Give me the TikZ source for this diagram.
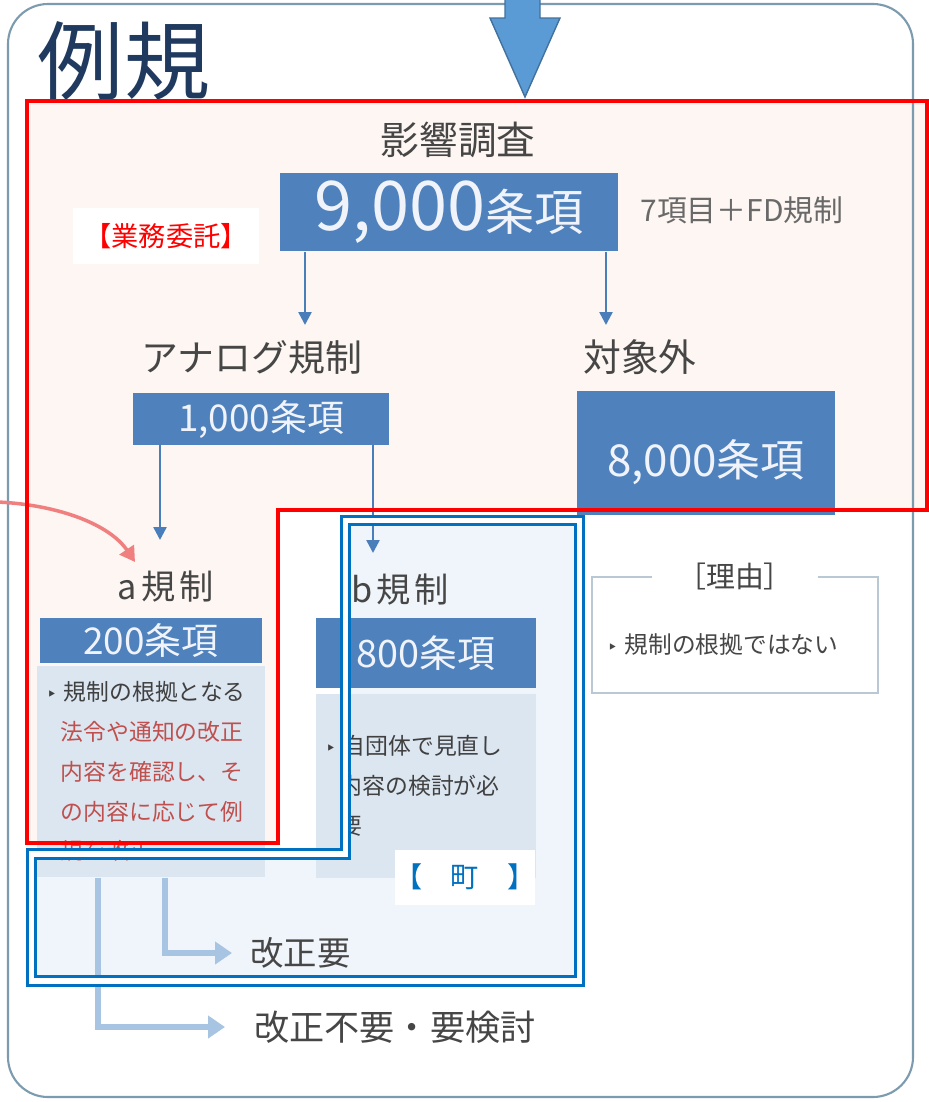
\documentclass[tikz,border=0pt]{standalone}
\usepackage{fontspec}
\setmainfont{Noto Sans CJK JP}
\newfontfamily\symfont{DejaVu Sans}
\usepackage{xcolor}
\usetikzlibrary{arrows.meta, positioning}

\definecolor{boxblue}{RGB}{79,129,189}
\definecolor{numtext}{RGB}{240,244,250}
\definecolor{bodyfill}{RGB}{220,230,241}
\definecolor{bodytext}{RGB}{64,64,64}
\definecolor{headgray}{RGB}{70,70,70}
\definecolor{softgray}{RGB}{105,105,105}
\definecolor{titlenavy}{RGB}{31,58,94}
\definecolor{arrowblue}{RGB}{74,126,187}
\definecolor{flowblue}{RGB}{167,196,226}
\definecolor{noteRed}{RGB}{192,80,77}
\definecolor{peach}{RGB}{253,246,242}
\definecolor{bluewash}{RGB}{240,245,251}
\definecolor{townblue}{RGB}{0,112,192}
\definecolor{framegray}{RGB}{125,155,175}
\definecolor{reasongray}{RGB}{185,200,212}
\definecolor{pinkline}{RGB}{240,128,128}
\definecolor{bigarrowfill}{RGB}{91,155,213}
\definecolor{bigarrowline}{RGB}{65,113,156}

\newcommand{\tribullet}{{\symfont\fontsize{10}{10}\selectfont ‣}}

\begin{document}
\begin{tikzpicture}[x=0.02cm, y=-0.02cm,
    numbox/.style={rectangle, fill=boxblue, text=numtext, inner sep=0pt},
    bodybox/.style={rectangle, fill=bodyfill, text=bodytext, inner xsep=0.2cm,
                    inner ysep=0pt, align=left, font=\fontsize{13}{22.6}\selectfont},
    head/.style={inner sep=0pt, text=headgray},
    tag/.style={rectangle, fill=white, inner sep=0pt},
    arrow/.style={-{Triangle[length=0.26cm, width=0.26cm]}, line width=1.4pt, draw=arrowblue},
    flow/.style={-{Triangle[length=0.34cm, width=0.44cm]}, line width=3.4pt, draw=flowblue}
  ]
  \useasboundingbox (0,0) rectangle (929,1102);

  % frame and backgrounds
  \fill[white, rounded corners=0.8cm] (8,4) rectangle (913,1097);
  \fill[peach] (27,101) -- (927,101) -- (927,510) -- (278,510) -- (278,843) -- (27,843) -- cycle;
  \fill[bluewash] (345.5,520.5) -- (579.5,520.5) -- (579.5,981) -- (31.5,981) -- (31.5,854) -- (345.5,854) -- cycle;
  \draw[framegray, line width=1.2pt, rounded corners=0.8cm] (8,4) rectangle (913,1097);
  \filldraw[fill=bigarrowfill, draw=bigarrowline, line width=0.8pt]
    (505,-2) -- (540,-2) -- (540,18) -- (560,18) -- (525,97) -- (490,18) -- (505,18) -- cycle;

  % upper part
  \node[head, text=titlenavy, font=\fontsize{49}{49}\selectfont] (title) at (124,61) {例規};
  \node[head, font=\fontsize{22}{22}\selectfont] (survey) at (458,140) {影響調査};
  \node[numbox, minimum width=6.76cm, minimum height=1.58cm] (b9000) at (449,212)
    {{\fontsize{39}{39}\selectfont 9,000}{\fontsize{28}{28}\selectfont 条項}};
  \node[head, text=softgray, font=\fontsize{17}{17}\selectfont] (items) at (742,210) {7項目＋FD規制};
  \node[head, font=\fontsize{21}{21}\selectfont] (analog) at (252,357) {アナログ規制};
  \node[head, font=\fontsize{21.5}{21.5}\selectfont] (excluded) at (640,357) {対象外};
  \node[numbox, minimum width=5.14cm, minimum height=1.04cm, font=\fontsize{21}{21}\selectfont] (b1000) at (261,419) {1,000条項};
  \node[numbox, minimum width=5.16cm, minimum height=2.48cm, text height=27pt, text depth=0pt,
        font=\fontsize{25}{25}\selectfont] (b8000) at (706,453) {8,000条項};

  % a / b
  \node[head, font=\fontsize{19.5}{19.5}\selectfont] (aReg) at (166,587) {a\hspace{0.12em}規\hspace{0.12em}制};
  \node[head, font=\fontsize{19.5}{19.5}\selectfont] (bReg) at (400,590) {b\hspace{0.12em}規\hspace{0.12em}制};
  \node[numbox, minimum width=4.44cm, minimum height=0.9cm, font=\fontsize{21}{21}\selectfont] (b200) at (151,640) {200条項};
  \node[bodybox, below=0.06cm of b200, minimum width=4.58cm, minimum height=4.22cm, text width=4.18cm] (bodyA)
    {\makebox[0.75em][l]{\tribullet}規制の根拠となる\\
     \hspace*{0.62em}\textcolor{noteRed}{法令や通知の改正}\\
     \hspace*{0.62em}\textcolor{noteRed}{内容を確認し、そ}\\
     \hspace*{0.62em}\textcolor{noteRed}{の内容に応じて例}\\
     \hspace*{0.62em}\textcolor{noteRed}{規を改正}};
  \node[numbox, minimum width=4.42cm, minimum height=1.4cm, font=\fontsize{21.5}{21.5}\selectfont] (b800) at (426,653) {800条項};
  \node[bodybox, below=0.1cm of b800, minimum width=4.42cm, minimum height=3.68cm, text width=4.02cm] (bodyB)
    {\makebox[0.75em][l]{\tribullet}自団体で見直し\\
     \hspace*{0.62em}内容の検討が必\\
     \hspace*{0.62em}要};

  % reason
  \node[draw=reasongray, line width=1pt, minimum width=5.72cm, minimum height=2.32cm, inner sep=0pt] (reason) at (735,635) {};
  \node[head, fill=white, inner xsep=0.5cm, font=\fontsize{16.5}{16.5}\selectfont] (reasonT) at (reason.north) {［理由］};
  \node[head, anchor=west, font=\fontsize{13.5}{13.5}\selectfont] (reasonB) at (607,645) {\tribullet\hspace{0.3em}規制の根拠ではない};

  % results
  \node[head, anchor=west, font=\fontsize{19}{19}\selectfont] (kaisei) at (250,953) {改正要};
  \node[head, anchor=west, font=\fontsize{20}{20}\selectfont] (fuyou) at (254,1027) {改正不要・要検討};

  % arrows
  \coordinate (t1) at (305,325);
  \coordinate (t2) at (606,325);
  \coordinate (t3) at (160,540);
  \coordinate (t4) at (373,553);
  \coordinate (f1) at (165,953);
  \coordinate (f2) at (98,1027);
  \coordinate (pinkA) at (-2,502);
  \coordinate (pinkB) at (135,562);
  \draw[arrow] (b9000.south -| t1) -- (t1);
  \draw[arrow] (b9000.south -| t2) -- (t2);
  \draw[arrow] (b1000.south -| t3) -- (t3);
  \draw[arrow] (b1000.south -| t4) -- (t4);
  \draw[flow, shorten >=0.36cm] (bodyA.south -| f1) |- (kaisei.west);
  \draw[flow, shorten >=0.58cm] (bodyA.south -| f2) |- (fuyou.west);
  \draw[pinkline, line width=2pt, -{Triangle[length=0.3cm, width=0.34cm]}]
    (pinkA) .. controls (60,505) and (110,525) .. (pinkB);

  % work split
  \draw[red, line width=2.3pt] (27,101) -- (927,101) -- (927,510) -- (278,510) -- (278,843) -- (27,843) -- cycle;
  \draw[townblue, line width=1.7pt, double=white, double distance=3.4pt]
    (345.5,520.5) -- (579.5,520.5) -- (579.5,981) -- (31.5,981) -- (31.5,854) -- (345.5,854) -- cycle;
  \node[tag, minimum width=3.74cm, minimum height=1.14cm, text=red, font=\fontsize{15.5}{15.5}\selectfont] (outsource) at (166,236) {【業務委託】};
  \node[tag, minimum width=2.7cm, minimum height=1.1cm, text=townblue, font=\fontsize{16}{16}\selectfont] (town) at (465,877) {【　町　】};
\end{tikzpicture}
\end{document}
